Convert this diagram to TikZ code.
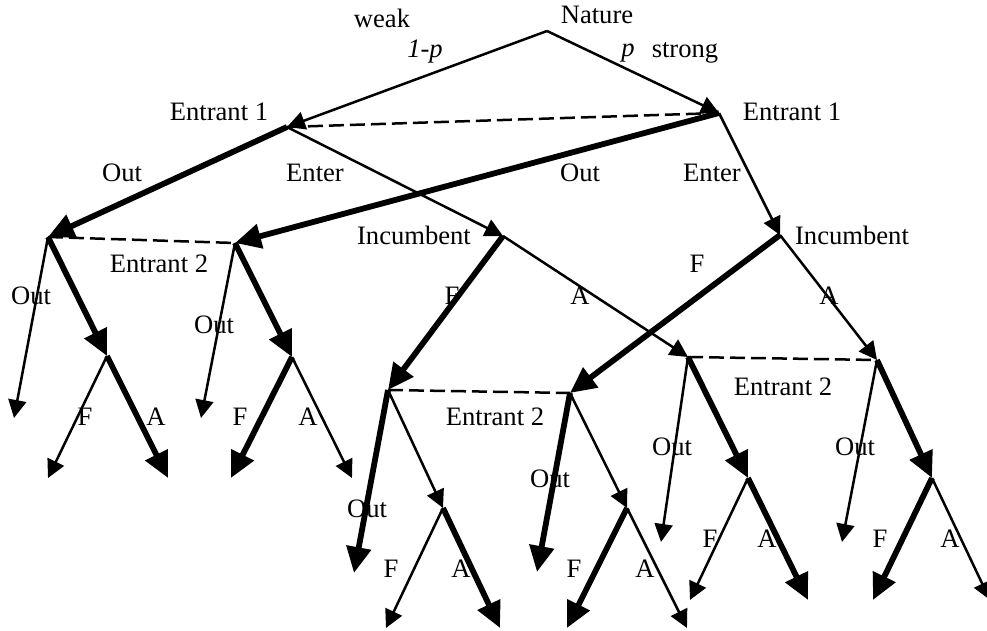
\documentclass[tikz,border=0pt]{standalone}
\usepackage{fontspec}
\setmainfont{Liberation Serif}
\usetikzlibrary{arrows.meta}

\begin{document}
\begin{tikzpicture}[x=0.5pt,y=-0.5pt, every node/.style={font=\fontsize{13.3}{16}\selectfont,inner sep=0pt},
        move/.style={line width=1.25pt,-{Triangle[length=9pt,width=9pt]}},
        eqmove/.style={line width=2.9pt,-{Triangle[length=13pt,width=12pt]}},
        infoset/.style={line width=1.25pt,dash pattern=on 7.5pt off 3pt}]
        \useasboundingbox (0,0) rectangle (987,631);
        % decision points
        \coordinate (nat) at (547,31);
        \coordinate (e1w) at (287,127); \coordinate (e1s) at (719,113);
        \coordinate (o1) at (48,237); \coordinate (o2) at (235,243);
        \coordinate (incw) at (503,236); \coordinate (incs) at (780,235);
        \coordinate (o1e) at (107,356); \coordinate (o2e) at (292,357);
        \coordinate (fw) at (388,390); \coordinate (fs) at (570,393);
        \coordinate (aw) at (688,357); \coordinate (as) at (877,360);
        \coordinate (fwe) at (443,508); \coordinate (fse) at (627,508);
        \coordinate (awe) at (748,478); \coordinate (ase) at (932,478);
        % end points
        \coordinate (o1x) at (14,418); \coordinate (o1f) at (48,478); \coordinate (o1a) at (168,478);
        \coordinate (o2x) at (201,418); \coordinate (o2f) at (231,478); \coordinate (o2a) at (352,478);
        \coordinate (fwx) at (354,573); \coordinate (fwf) at (386,628); \coordinate (fwa) at (500,628);
        \coordinate (fsx) at (537,572); \coordinate (fsf) at (567,628); \coordinate (fsa) at (687,628);
        \coordinate (awx) at (661,542); \coordinate (awf) at (690,600); \coordinate (awa) at (808,600);
        \coordinate (asx) at (842,542); \coordinate (asf) at (873,600); \coordinate (asa) at (990,600);

        \draw[infoset] (e1w)--(e1s); \draw[infoset] (o1)--(o2);
        \draw[infoset] (fw)--(fs); \draw[infoset] (aw)--(as);

        \draw[move] (nat)--(e1w); \draw[move] (nat)--(e1s);
        \draw[eqmove] (e1w)--(o1); \draw[move] (e1w)--(incw);
        \draw[eqmove] (e1s)--(o2); \draw[move] (e1s)--(incs);
        \draw[move] (o1)--(o1x); \draw[eqmove] (o1)--(o1e);
        \draw[move] (o1e)--(o1f); \draw[eqmove] (o1e)--(o1a);
        \draw[move] (o2)--(o2x); \draw[eqmove] (o2)--(o2e);
        \draw[eqmove] (o2e)--(o2f); \draw[move] (o2e)--(o2a);
        \draw[eqmove] (incw)--(fw); \draw[move] (incw)--(aw);
        \draw[eqmove] (incs)--(fs); \draw[move] (incs)--(as);
        \draw[eqmove] (fw)--(fwx); \draw[move] (fw)--(fwe);
        \draw[move] (fwe)--(fwf); \draw[eqmove] (fwe)--(fwa);
        \draw[eqmove] (fs)--(fsx); \draw[move] (fs)--(fse);
        \draw[eqmove] (fse)--(fsf); \draw[move] (fse)--(fsa);
        \draw[move] (aw)--(awx); \draw[eqmove] (aw)--(awe);
        \draw[move] (awe)--(awf); \draw[eqmove] (awe)--(awa);
        \draw[move] (as)--(asx); \draw[eqmove] (as)--(ase);
        \draw[eqmove] (ase)--(asf); \draw[move] (ase)--(asa);

        % labels
        \node (lnat) at (597,15) {Nature};
        \node (lweak) at (382,18) {weak}; \node (lstrong) at (685,53) {strong};
        \node (lq) at (425,52) {\itshape 1-p}; \node (lp) at (628,53) {\itshape p};
        \node (le1w) at (219,112) {Entrant 1}; \node (le1s) at (792,112) {Entrant 1};
        \node (lo1) at (122,173) {Out}; \node (len1) at (315,173) {Enter};
        \node (lo2) at (580,173) {Out}; \node (len2) at (712,173) {Enter};
        \node (linw) at (414,235) {Incumbent}; \node (lins) at (852,235) {Incumbent};
        \node (le2a) at (159,264) {Entrant 2};
        \node (lo1x) at (31,296) {Out}; \node (lo2x) at (214,325) {Out};
        \node (lo1f) at (85,417) {F}; \node (lo1a) at (156,417) {A};
        \node (lo2f) at (240,417) {F}; \node (lo2a) at (308,417) {A};
        \node (lfw) at (452,296) {F}; \node (law) at (580,296) {A};
        \node (lfs) at (697,264) {F}; \node (las) at (829,296) {A};
        \node (le2b) at (495,417) {Entrant 2}; \node (le2c) at (783,387) {Entrant 2};
        \node (lfwx) at (367,509) {Out}; \node (lfwf) at (391,569) {F}; \node (lfwa) at (461,569) {A};
        \node (lfsx) at (550,479) {Out}; \node (lfsf) at (574,569) {F}; \node (lfsa) at (645,569) {A};
        \node (lawx) at (672,447) {Out}; \node (lawf) at (710,539) {F}; \node (lawa) at (767,539) {A};
        \node (lasx) at (855,447) {Out}; \node (lasf) at (880,539) {F}; \node (lasa) at (950,539) {A};
\end{tikzpicture}
\end{document}
